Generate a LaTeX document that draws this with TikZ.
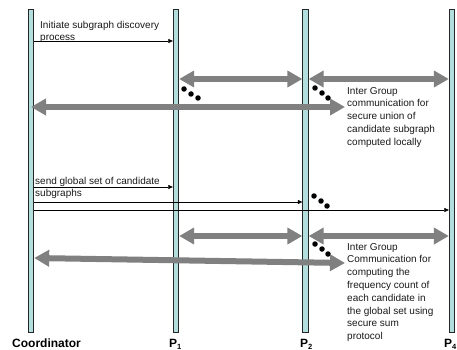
\documentclass[tikz,border=0pt]{standalone}
\usepackage{fontspec}
\setmainfont{Liberation Sans}
\usetikzlibrary{arrows.meta}
\definecolor{barfill}{RGB}{178,222,222}
\definecolor{thickgray}{RGB}{128,128,128}
\newcommand{\lowsub}[1]{\raisebox{-2pt}{\fontsize{7.5}{7.5}\selectfont #1}}
\begin{document}
\begin{tikzpicture}[x=1pt,y=-1pt,
  bar/.style={draw=black!85, line width=0.8pt, fill=barfill, minimum width=5.5pt, minimum height=323pt, inner sep=0pt},
  msg/.style={draw=black, line width=0.5pt, -{Triangle[length=4.5pt,width=4pt]}},
  big/.style={draw=thickgray, line width=6pt, {Triangle[length=15pt,width=16pt]}-{Triangle[length=15pt,width=16pt]}},
  dot/.style={circle, fill=black, inner sep=0pt, minimum size=5.5pt},
  lbl/.style={font=\fontsize{10}{12.8}\selectfont, align=left, inner sep=0pt, text=black!90, anchor=north west},
  lifename/.style={font=\fontsize{12}{14}\selectfont\bfseries, inner sep=0pt, anchor=base west}]
\useasboundingbox (0,0) rectangle (457,350);
% lifelines
\node[bar] (C)  at (31,170.5) {};
\node[bar] (P1) at (176,170.5) {};
\node[bar] (P2) at (305.5,170.5) {};
\node[bar] (P4) at (452,170.5) {};
% names
\node[lifename] (nC) at (12,347) {Coordinator};
\node[lifename] (n1) at (169,347) {P\lowsub{1}};
\node[lifename] (n2) at (300,347) {P\lowsub{2}};
\node[lifename] (n4) at (444,347) {P\lowsub{4}};
% phase 1
\node[lbl, font=\fontsize{10}{11.5}\selectfont] (t1) at (40,21.5) {Initiate subgraph discovery\\process};
\draw[msg] (C.east |- 0,41) -- (P1.west |- 0,41);
\draw[big] (P1.east |- 0,79) -- (P2.west |- 0,79);
\draw[big] (P2.east |- 0,79) -- (P4.west |- 0,79);
\node[dot] (d1) at (184,89) {};
\node[dot] (d2) at (191,94) {};
\node[dot] (d3) at (198,98) {};
\node[dot] (d4) at (315,88) {};
\node[dot] (d5) at (322,93) {};
\node[dot] (d6) at (328,98) {};
\node[lbl] (t2) at (347,87) {Inter Group\\communication for\\secure union of\\candidate subgraph\\computed locally};
\coordinate (e1) at (345,107);
\draw[big] (C.center |- 0,107) -- (e1);
% phase 2
\node[lbl, font=\fontsize{10}{12}\selectfont] (t3) at (35,177) {send global set of candidate\\subgraphs};
\draw[msg] (C.east |- 0,187) -- (P1.west |- 0,187);
\draw[msg] (C.east |- 0,202) -- (P2.west |- 0,202);
\draw[msg] (C.east |- 0,210) -- (P4.west |- 0,210);
\node[dot] (d7) at (314,196) {};
\node[dot] (d8) at (321,201) {};
\node[dot] (d9) at (327,206) {};
\draw[big] (P1.east |- 0,236) -- (P2.west |- 0,236);
\draw[big] (P2.east |- 0,236) -- (P4.west |- 0,236);
\node[dot] (d10) at (315,244) {};
\node[dot] (d11) at (322,249) {};
\node[dot] (d12) at (328,254) {};
\node[lbl] (t4) at (347,243) {Inter Group\\Communication for\\computing the\\frequency count of\\each candidate in\\the global set using\\secure sum\\protocol};
\coordinate (e2) at (345,263);
\draw[big] (C.east |- 0,258) -- (e2);
\end{tikzpicture}
\end{document}
